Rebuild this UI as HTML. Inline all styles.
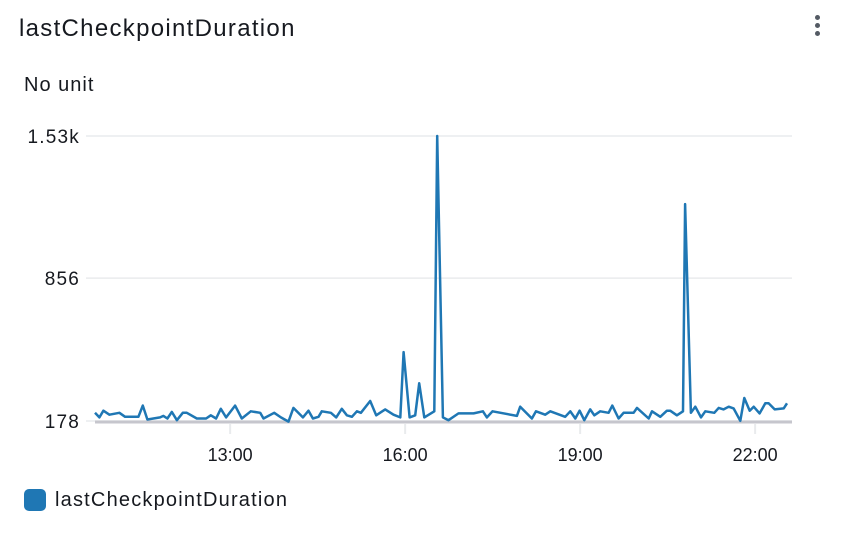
<!DOCTYPE html>
<html><head><meta charset="utf-8"><style>
body{margin:0;background:#fff;font-family:"Liberation Sans","DejaVu Sans",sans-serif;}
#wrap{position:relative;width:850px;height:538px;overflow:hidden;}
</style></head><body>
<div id="wrap">
<div style="position:absolute;left:19px;top:15px;font-size:24px;letter-spacing:1.3px;color:#16191f;white-space:nowrap">lastCheckpointDuration</div>
<div style="position:absolute;left:812px;top:14px;width:12px;height:26px;">
 <div style="position:absolute;left:3px;top:1px;width:5px;height:5px;border-radius:50%;background:#545b64"></div>
 <div style="position:absolute;left:3px;top:9px;width:5px;height:5px;border-radius:50%;background:#545b64"></div>
 <div style="position:absolute;left:3px;top:17px;width:5px;height:5px;border-radius:50%;background:#545b64"></div>
</div>
<div style="position:absolute;left:24px;top:74px;font-size:20px;letter-spacing:1px;color:#16191f;">No unit</div>
<svg id="chart" width="850" height="538" style="position:absolute;left:0;top:0"></svg>
<div style="position:absolute;left:24px;top:489px;height:22px;">
 <div style="position:absolute;left:0;top:0;width:22px;height:22px;border-radius:5px;background:#1f77b4"></div>
 <div style="position:absolute;left:31px;top:0px;font-size:20px;letter-spacing:1.2px;color:#16191f;white-space:nowrap">lastCheckpointDuration</div>
</div>
</div>
<script>
// minutes since 10:00
const times=[41,45.5,49.6,55.8,66.1,72,85.6,90.2,94.9,108,111.4,115.5,120,125.2,131.3,135.4,145.7,155.3,160.1,165.6,170.4,175.9,185.1,192,201.3,210.9,214.3,225.3,232.2,240,245.1,254.8,260.6,265.1,270.9,274.3,283.6,289.1,294.9,300.1,305.2,310.4,314.5,324.1,330.2,339.5,348,355,358.4,364.6,370.4,374.5,379.7,390,393,398.9,404.6,414.9,430.4,440,444.1,449.9,475,478.4,490.4,494.6,504.1,509.3,524.7,529.9,535,539.5,544.3,550.4,554.6,560.7,569.3,573.1,579.6,584.7,595,598.5,610.5,613.9,622.5,629.3,632.7,639.6,645.8,648,654,658.5,664.3,668.8,678,682.5,687.6,692.8,697.9,704.8,708.9,714.4,718.5,724.6,730.5,733.9,740.1,749.4,752.8];
const values=[217,195,227,208,217,198,198,251,185,195,202,190,221,182,217,217,190,190,205,190,236,195,251,190,224,217,190,217,195,175,240,195,227,190,198,224,217,195,236,205,198,224,217,273,205,233,208,195,505,195,205,357,195,224,1530,195,182,214,214,224,195,224,202,246,190,224,208,224,198,224,190,227,182,233,205,224,217,251,190,217,217,240,190,224,198,227,227,205,224,1207,217,246,195,224,217,240,233,246,238,179,287,227,246,214,262,262,233,238,262];
const xTicks=[180,360,540,720];
const xTickLabels=["13:00","16:00","19:00","22:00"];
const yTicks=[178,856,1530];
const yTickLabels=["178","856","1.53k"];
const NS="http://www.w3.org/2000/svg";
const svg=document.getElementById('chart');
const X0=95,X1=787,T0=41,T1=752.8;
const Y0=421,Y1=136,V0=178,V1=1530;
function xs(t){return X0+(t-T0)*(X1-X0)/(T1-T0);}
function ys(v){return Y0+(v-V0)*(Y1-Y0)/(V1-V0);}
function mk(tag,attrs){const e=document.createElementNS(NS,tag);for(const k in attrs)e.setAttribute(k,attrs[k]);svg.appendChild(e);return e;}
yTicks.forEach((v,i)=>{
 const g=mk('line',{x1:86,x2:792,y1:ys(v),y2:ys(v),stroke:'#e9ebed','stroke-width':1.5});
 
 
 const t=mk('text',{x:80,y:ys(v)+7,'text-anchor':'end','font-size':19,'letter-spacing':1.2,fill:'#16191f','font-family':'Liberation Sans, sans-serif'});
 t.textContent=yTickLabels[i];
 
 
});
const ax=mk('line',{x1:95,x2:792,y1:422,y2:422,stroke:'#c6c6cd','stroke-width':3});


xTicks.forEach((t,i)=>{
 const l=mk('line',{x1:xs(t),x2:xs(t),y1:424,y2:434,stroke:'#e9ebed','stroke-width':2});
 
 
 const tx=mk('text',{x:xs(t),y:461,'text-anchor':'middle','font-size':18,fill:'#16191f','font-family':'Liberation Sans, sans-serif'});
 tx.textContent=xTickLabels[i];
 
 
});
const d=times.map((t,i)=>(i?'L':'M')+xs(t).toFixed(1)+','+ys(values[i]).toFixed(1)).join(' ');
const p=mk('path',{d:d,fill:'none',stroke:'#1f77b4','stroke-width':2.5,'stroke-linejoin':'round'});


</script>
</body></html>
